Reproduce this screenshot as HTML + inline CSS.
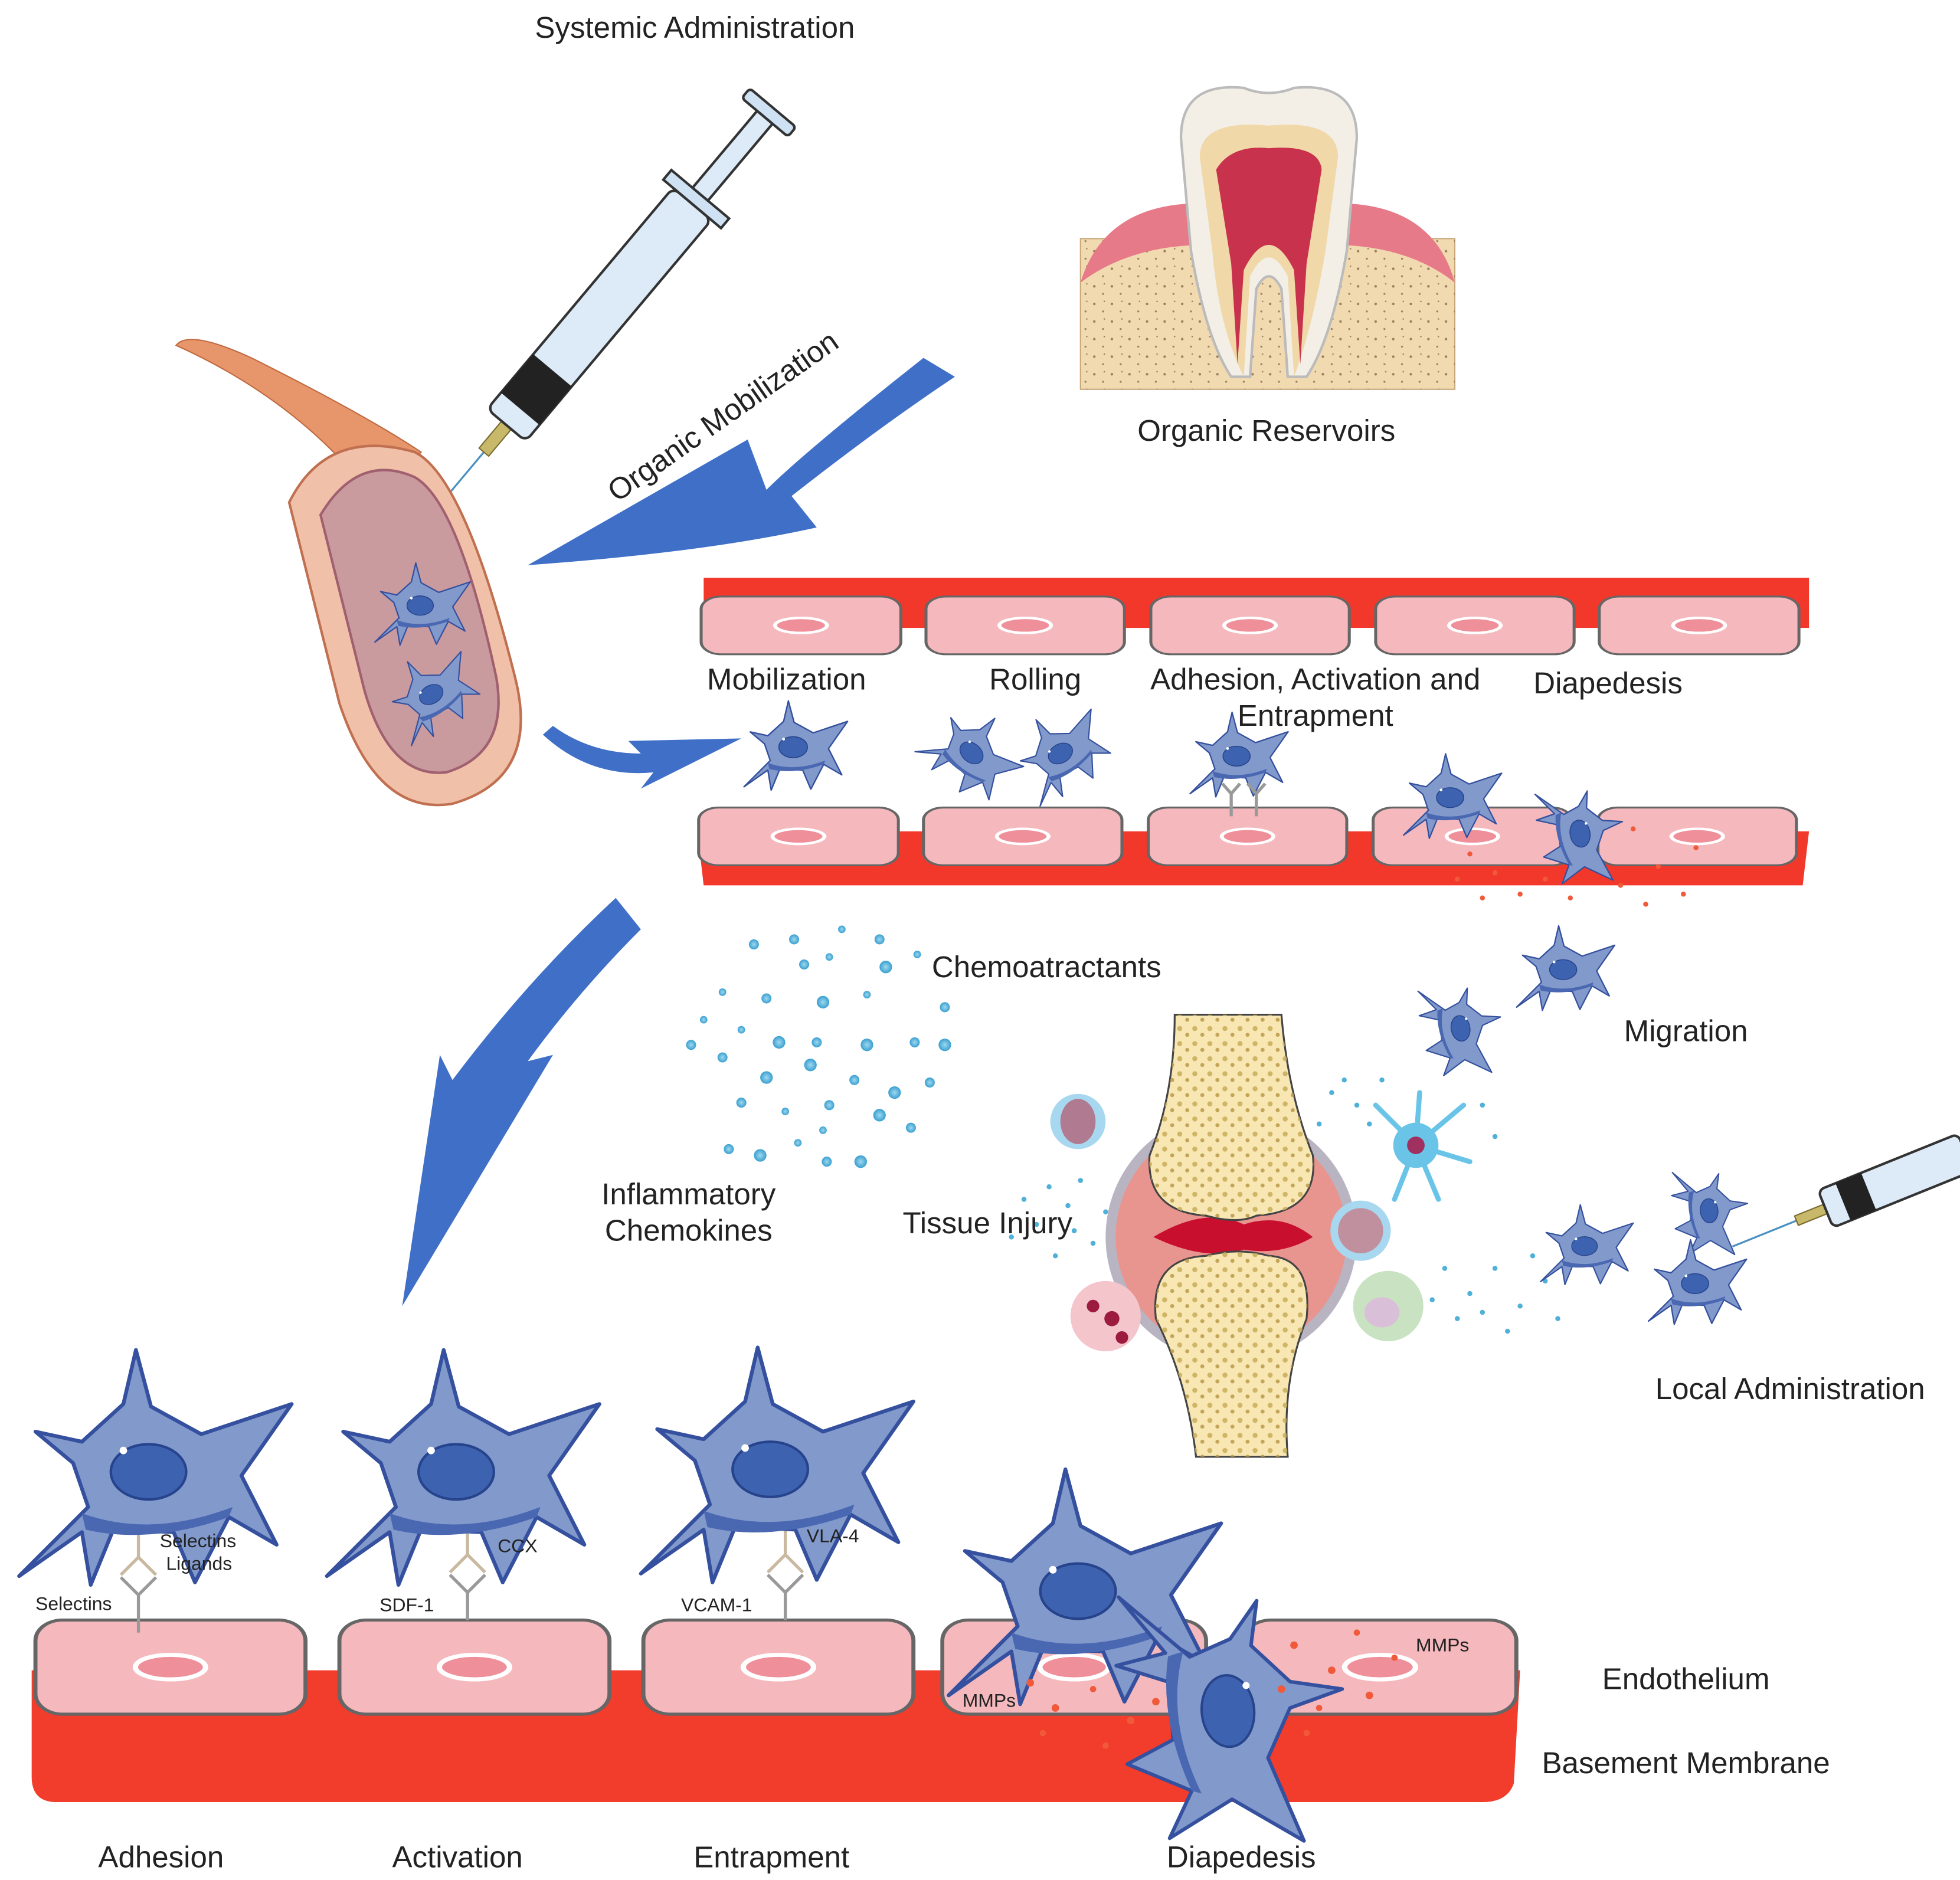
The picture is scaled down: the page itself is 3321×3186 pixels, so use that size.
<!DOCTYPE html>
<html><head><meta charset="utf-8"><style>
html,body{margin:0;padding:0;background:#fff}
svg{display:block}
text{font-family:"Liberation Sans",sans-serif;fill:#222}
</style></head><body>
<svg width="3321" height="3186" viewBox="0 0 1560 1497" xmlns="http://www.w3.org/2000/svg">
<defs>
<g id="cell">
<path d="M-105,75 L-50,20 L-62,-15 L-92,-40 L-55,-32 L-22,-62 L-12,-105 L0,-60 L40,-38 L112,-62 L72,-5 L100,50 L62,28 L35,80 L18,40 L-30,38 L-48,82 L-55,40 Z" fill="#8299cb" stroke="#34509e" stroke-width="3" stroke-linejoin="round"/>
<path d="M-55,25 Q0,45 65,20 L62,28 Q0,50 -52,38 Z" fill="#4a68b2"/>
<ellipse cx="-2" cy="-8" rx="30" ry="22" fill="#3d63b0" stroke="#26438c" stroke-width="2"/>
<circle cx="-22" cy="-25" r="3" fill="#fff"/>
</g>
<g id="endo">
<rect x="0" y="0" width="100" height="46" rx="10" fill="#f5b9bd" stroke="#666" stroke-width="1.5"/>
<ellipse cx="50" cy="23" rx="13" ry="6" fill="#ef8f9a" stroke="#fff" stroke-width="2"/>
</g>
<radialGradient id="dot"><stop offset="0" stop-color="#9fd8f0"/><stop offset="1" stop-color="#3aa0d0"/></radialGradient>
<pattern id="spk" width="14" height="14" patternUnits="userSpaceOnUse">
<circle cx="3" cy="4" r="1" fill="#9a8060"/><circle cx="10" cy="10" r="0.8" fill="#9a8060"/><circle cx="11" cy="2" r="0.6" fill="#9a8060"/>
</pattern>
<pattern id="bsp" width="12" height="12" patternUnits="userSpaceOnUse">
<circle cx="3" cy="3" r="2" fill="#c8ad5a"/><circle cx="9" cy="8" r="1.6" fill="#b89a48"/>
</pattern>
</defs>

<text x="553" y="30" font-size="24" text-anchor="middle">Systemic Administration</text>
<text x="1008" y="351" font-size="24" text-anchor="middle">Organic Reservoirs</text>
<text x="580" y="338" font-size="24" text-anchor="middle" transform="rotate(-35 580 338)">Organic Mobilization</text>

<g transform="translate(385,360) rotate(-50)">
<line x1="0" y1="0" x2="-70" y2="0" stroke="#4a90c0" stroke-width="1.5"/>
<rect x="0" y="-5" width="30" height="10" fill="#c8b86a" stroke="#7a6d30"/>
<rect x="28" y="-20" width="230" height="40" rx="6" fill="#dcebf7" stroke="#333" stroke-width="2"/>
<rect x="45" y="-20" width="40" height="40" fill="#222"/>
<rect x="258" y="-30" width="10" height="60" fill="#cfe2f3" stroke="#333" stroke-width="2"/>
<rect x="268" y="-8" width="80" height="16" fill="#dcebf7" stroke="#333" stroke-width="2"/>
<rect x="348" y="-24" width="10" height="48" rx="3" fill="#cfe2f3" stroke="#333" stroke-width="2"/>
</g>

<rect x="860" y="190" width="298" height="120" fill="#f1d9b0" stroke="#c9a878"/>
<rect x="860" y="190" width="298" height="120" fill="url(#spk)"/>
<path d="M860,225 Q880,160 960,162 L960,195 Q900,195 860,225 Z" fill="#e77a88"/>
<path d="M1158,225 Q1140,160 1060,162 L1060,195 Q1120,195 1158,225 Z" fill="#e77a88"/>
<path d="M940,110 Q940,65 990,70 Q1010,78 1030,70 Q1080,65 1080,110 L1072,200 Q1060,270 1040,300 L1025,300 L1020,230 Q1010,210 1000,230 L995,300 L980,300 Q960,270 948,200 Z" fill="#f3efe6" stroke="#bbb" stroke-width="2"/>
<path d="M955,125 Q955,95 1010,100 Q1065,95 1065,125 L1055,200 Q1045,260 1030,300 L1025,220 Q1010,190 995,220 L990,300 Q970,260 965,200 Z" fill="#f0d8a8"/>
<path d="M968,135 Q980,115 1010,118 Q1050,115 1052,135 L1040,210 L1035,290 L1030,215 Q1010,175 990,215 L985,290 L980,210 Z" fill="#c8324d"/>

<path d="M760,300 L735,285 Q640,360 610,390 L595,350 L420,450 Q560,440 650,420 L630,395 Q700,340 760,300 Z" fill="#3f6fc7"/>
<path d="M432,585 Q470,620 520,615 L510,628 L590,588 L500,590 L510,600 Q470,600 440,578 Z" fill="#3f6fc7"/>
<path d="M510,740 L490,715 Q420,780 360,860 L350,840 L320,1040 L440,840 L420,845 Q460,790 510,740 Z" fill="#3f6fc7"/>

<path d="M140,275 Q150,262 200,285 Q290,330 335,360 L300,400 Q240,320 140,275 Z" fill="#e7966c" stroke="#c06a40"/>
<path d="M230,400 Q260,340 330,360 Q370,380 410,540 Q430,620 360,640 Q300,650 270,560 Z" fill="#f1c0a8" stroke="#c07050" stroke-width="2"/>
<path d="M255,410 Q285,360 330,380 Q365,400 395,540 Q405,600 355,615 Q310,620 290,550 Z" fill="#c99a9e" stroke="#a06070" stroke-width="2"/>
<use href="#cell" transform="translate(335,485) scale(0.35)"/>
<use href="#cell" transform="translate(345,555) scale(0.33) rotate(-30)"/>

<path d="M560,460 L1440,460 L1440,500 L560,500 Z" fill="#f2382a"/>
<use href="#endo" transform="translate(558,475) scale(1.59,1)"/>
<use href="#endo" transform="translate(737,475) scale(1.58,1)"/>
<use href="#endo" transform="translate(916,475) scale(1.58,1)"/>
<use href="#endo" transform="translate(1095,475) scale(1.58,1)"/>
<use href="#endo" transform="translate(1273,475) scale(1.59,1)"/>
<path d="M555,662 L1440,662 L1435,705 L560,705 Z" fill="#f2382a"/>
<use href="#endo" transform="translate(556,643) scale(1.59,1)"/>
<use href="#endo" transform="translate(735,643) scale(1.58,1)"/>
<use href="#endo" transform="translate(914,643) scale(1.58,1)"/>
<use href="#endo" transform="translate(1093,643) scale(1.58,1)"/>
<use href="#endo" transform="translate(1272,643) scale(1.58,1)"/>
<text x="626" y="549" font-size="24" text-anchor="middle">Mobilization</text>
<text x="824" y="549" font-size="24" text-anchor="middle">Rolling</text>
<text x="1047" y="549" font-size="24" text-anchor="middle">Adhesion, Activation and</text>
<text x="1047" y="578" font-size="24" text-anchor="middle">Entrapment</text>
<text x="1280" y="552" font-size="24" text-anchor="middle">Diapedesis</text>
<use href="#cell" transform="translate(632,598) scale(0.38)"/>
<use href="#cell" transform="translate(772,602) scale(0.34) rotate(40)"/>
<use href="#cell" transform="translate(846,602) scale(0.34) rotate(-30)"/>
<use href="#cell" transform="translate(985,605) scale(0.36)"/>
<use href="#cell" transform="translate(1155,638) scale(0.36)"/>
<use href="#cell" transform="translate(1255,665) scale(0.36) rotate(80)"/>
<g fill="#f05a3a">
<circle cx="1170" cy="680" r="2"/><circle cx="1190" cy="695" r="2"/><circle cx="1210" cy="712" r="2"/><circle cx="1290" cy="705" r="2"/><circle cx="1320" cy="690" r="2"/><circle cx="1340" cy="712" r="2"/><circle cx="1180" cy="715" r="2"/><circle cx="1300" cy="660" r="2"/><circle cx="1230" cy="700" r="2"/><circle cx="1350" cy="675" r="2"/><circle cx="1160" cy="700" r="2"/><circle cx="1250" cy="715" r="2"/><circle cx="1310" cy="720" r="2"/>
</g>

<g fill="url(#dot)">
<circle cx="600" cy="752" r="4"/><circle cx="632" cy="748" r="4"/><circle cx="670" cy="740" r="3"/><circle cx="700" cy="748" r="4"/><circle cx="730" cy="760" r="3"/><circle cx="640" cy="768" r="4"/><circle cx="660" cy="762" r="3"/><circle cx="705" cy="770" r="5"/><circle cx="575" cy="790" r="3"/><circle cx="610" cy="795" r="4"/><circle cx="655" cy="798" r="5"/><circle cx="690" cy="792" r="3"/><circle cx="752" cy="802" r="4"/><circle cx="560" cy="812" r="3"/><circle cx="590" cy="820" r="3"/><circle cx="620" cy="830" r="5"/><circle cx="650" cy="830" r="4"/><circle cx="690" cy="832" r="5"/><circle cx="728" cy="830" r="4"/><circle cx="752" cy="832" r="5"/><circle cx="550" cy="832" r="4"/><circle cx="575" cy="842" r="4"/><circle cx="610" cy="858" r="5"/><circle cx="645" cy="848" r="5"/><circle cx="680" cy="860" r="4"/><circle cx="712" cy="870" r="5"/><circle cx="740" cy="862" r="4"/><circle cx="590" cy="878" r="4"/><circle cx="625" cy="885" r="3"/><circle cx="660" cy="880" r="4"/><circle cx="700" cy="888" r="5"/><circle cx="725" cy="898" r="4"/><circle cx="580" cy="915" r="4"/><circle cx="605" cy="920" r="5"/><circle cx="635" cy="910" r="3"/><circle cx="658" cy="925" r="4"/><circle cx="685" cy="925" r="5"/><circle cx="655" cy="900" r="3"/>
</g>
<text x="833" y="778" font-size="24" text-anchor="middle">Chemoatractants</text>
<text x="548" y="959" font-size="24" text-anchor="middle">Inflammatory</text>
<text x="548" y="988" font-size="24" text-anchor="middle">Chemokines</text>

<circle cx="980" cy="985" r="100" fill="#b9b4c2"/>
<circle cx="980" cy="985" r="92" fill="#e8958f"/>
<path d="M918,985 Q960,960 990,975 Q1020,965 1045,985 Q1020,1000 990,995 Q960,1005 918,985 Z" fill="#c8102e"/>
<path d="M935,808 L1020,808 Q1025,870 1045,920 Q1050,965 1000,968 Q985,975 960,968 Q912,965 915,920 Q935,870 935,808 Z" fill="#f8e6b3" stroke="#444" stroke-width="1.5"/>
<path d="M935,808 L1020,808 Q1025,870 1045,920 Q1050,965 1000,968 Q985,975 960,968 Q912,965 915,920 Q935,870 935,808 Z" fill="url(#bsp)" opacity="0.85"/>
<path d="M920,1050 Q915,1002 960,1000 Q985,993 1010,1000 Q1045,1002 1040,1050 Q1020,1100 1025,1160 L952,1160 Q945,1100 920,1050 Z" fill="#f8e6b3" stroke="#444" stroke-width="1.5"/>
<path d="M920,1050 Q915,1002 960,1000 Q985,993 1010,1000 Q1045,1002 1040,1050 Q1020,1100 1025,1160 L952,1160 Q945,1100 920,1050 Z" fill="url(#bsp)" opacity="0.85"/>
<circle cx="858" cy="893" r="22" fill="#a8d8f0"/><ellipse cx="858" cy="893" rx="14" ry="18" fill="#b07a90"/>
<circle cx="1083" cy="980" r="24" fill="#a8d8f0"/><circle cx="1083" cy="980" r="18" fill="#c0909e"/>
<circle cx="880" cy="1048" r="28" fill="#f5c5cc"/><circle cx="870" cy="1040" r="5" fill="#9c1c40"/><circle cx="885" cy="1050" r="6" fill="#9c1c40"/><circle cx="893" cy="1065" r="5" fill="#9c1c40"/>
<circle cx="1105" cy="1040" r="28" fill="#c9e3c2"/><ellipse cx="1100" cy="1045" rx="14" ry="12" fill="#d9c0d8"/>
<g stroke="#69c4e8" stroke-width="4" stroke-linecap="round"><line x1="1127" y1="912" x2="1095" y2="880"/><line x1="1127" y1="912" x2="1165" y2="880"/><line x1="1127" y1="912" x2="1170" y2="925"/><line x1="1127" y1="912" x2="1110" y2="955"/><line x1="1127" y1="912" x2="1145" y2="955"/><line x1="1127" y1="912" x2="1130" y2="870"/></g>
<circle cx="1127" cy="912" r="18" fill="#69c4e8"/><circle cx="1127" cy="912" r="7" fill="#a03060"/>
<g fill="#4fb0d8">
<circle cx="835" cy="945" r="2"/><circle cx="850" cy="960" r="2"/><circle cx="825" cy="975" r="2"/><circle cx="870" cy="990" r="2"/><circle cx="840" cy="1000" r="2"/><circle cx="860" cy="940" r="2"/><circle cx="815" cy="955" r="2"/><circle cx="880" cy="965" r="2"/><circle cx="805" cy="985" r="2"/><circle cx="855" cy="980" r="2"/>
<circle cx="1060" cy="870" r="2"/><circle cx="1080" cy="880" r="2"/><circle cx="1100" cy="860" r="2"/><circle cx="1050" cy="895" r="2"/><circle cx="1180" cy="880" r="2"/><circle cx="1190" cy="905" r="2"/><circle cx="1070" cy="860" r="2"/><circle cx="1090" cy="895" r="2"/>
<circle cx="1150" cy="1010" r="2"/><circle cx="1170" cy="1030" r="2"/><circle cx="1190" cy="1010" r="2"/><circle cx="1210" cy="1040" r="2"/><circle cx="1230" cy="1020" r="2"/><circle cx="1160" cy="1050" r="2"/><circle cx="1200" cy="1060" r="2"/><circle cx="1240" cy="1050" r="2"/><circle cx="1140" cy="1035" r="2"/><circle cx="1180" cy="1045" r="2"/><circle cx="1220" cy="1000" r="2"/>
</g>
<text x="786" y="982" font-size="24" text-anchor="middle">Tissue Injury</text>

<use href="#cell" transform="translate(1245,775) scale(0.36)"/>
<use href="#cell" transform="translate(1160,820) scale(0.34) rotate(80)"/>
<use href="#cell" transform="translate(1262,995) scale(0.34)"/>
<use href="#cell" transform="translate(1358,965) scale(0.32) rotate(85)"/>
<use href="#cell" transform="translate(1350,1025) scale(0.36)"/>
<text x="1342" y="829" font-size="24" text-anchor="middle">Migration</text>
<text x="1425" y="1114" font-size="24" text-anchor="middle">Local Administration</text>
<g transform="translate(1430,972) rotate(-22)">
<line x1="0" y1="0" x2="-55" y2="0" stroke="#4a90c0" stroke-width="1.5"/>
<rect x="0" y="-4" width="25" height="8" fill="#c8b86a" stroke="#7a6d30"/>
<rect x="25" y="-16" width="120" height="32" rx="5" fill="#dcebf7" stroke="#333" stroke-width="2"/>
<rect x="40" y="-16" width="22" height="32" fill="#222"/>
</g>

<path d="M25,1330 L1210,1330 L1205,1420 Q1200,1435 1180,1435 L45,1435 Q25,1435 25,1415 Z" fill="#f23c2c"/>
<use href="#endo" transform="translate(28,1290) scale(2.15,1.63)"/>
<use href="#endo" transform="translate(270,1290) scale(2.15,1.63)"/>
<use href="#endo" transform="translate(512,1290) scale(2.15,1.63)"/>
<use href="#endo" transform="translate(750,1290) scale(2.1,1.63)"/>
<use href="#endo" transform="translate(990,1290) scale(2.17,1.63)"/>
<g stroke="#999" stroke-width="2.5" fill="none">
<path d="M110,1300 L110,1270 L96,1256 M110,1270 L124,1256"/><path d="M110,1200 L110,1240 L96,1254 M110,1240 L124,1254" stroke="#c9b9a0"/>
<path d="M372,1290 L372,1268 L358,1254 M372,1268 L386,1254"/><path d="M372,1200 L372,1238 L358,1252 M372,1238 L386,1252" stroke="#c9b9a0"/>
<path d="M625,1290 L625,1268 L611,1254 M625,1268 L639,1254"/><path d="M625,1200 L625,1238 L611,1252 M625,1238 L639,1252" stroke="#c9b9a0"/>
<path d="M980,650 L980,632 L973,624 M980,632 L987,624"/><path d="M1000,650 L1000,632 L993,624 M1000,632 L1007,624"/>
</g>
<use href="#cell" transform="translate(120,1180)"/>
<use href="#cell" transform="translate(365,1180)"/>
<use href="#cell" transform="translate(615,1178)"/>
<use href="#cell" transform="translate(860,1275)"/>
<use href="#cell" transform="translate(970,1365) scale(0.95) rotate(85)"/>
<g fill="#f05a3a">
<circle cx="820" cy="1340" r="3"/><circle cx="840" cy="1360" r="3"/><circle cx="870" cy="1345" r="2.5"/><circle cx="900" cy="1370" r="3"/><circle cx="830" cy="1380" r="2.5"/><circle cx="880" cy="1390" r="2.5"/><circle cx="920" cy="1355" r="3"/><circle cx="1030" cy="1310" r="3"/><circle cx="1060" cy="1330" r="3"/><circle cx="1090" cy="1350" r="3"/><circle cx="1050" cy="1360" r="2.5"/><circle cx="1110" cy="1320" r="2.5"/><circle cx="1020" cy="1345" r="3"/><circle cx="1080" cy="1300" r="2.5"/><circle cx="1040" cy="1380" r="2.5"/>
</g>
<g font-size="15">
<text x="127" y="1232">Selectins</text><text x="132" y="1250">Ligands</text>
<text x="28" y="1282">Selectins</text>
<text x="302" y="1283">SDF-1</text><text x="396" y="1236">CCX</text>
<text x="542" y="1283">VCAM-1</text><text x="642" y="1228">VLA-4</text>
<text x="1127" y="1315">MMPs</text><text x="766" y="1359">MMPs</text>
</g>
<text x="1342" y="1345" font-size="24" text-anchor="middle">Endothelium</text>
<text x="1342" y="1412" font-size="24" text-anchor="middle">Basement Membrane</text>
<text x="128" y="1487" font-size="24" text-anchor="middle">Adhesion</text>
<text x="364" y="1487" font-size="24" text-anchor="middle">Activation</text>
<text x="614" y="1487" font-size="24" text-anchor="middle">Entrapment</text>
<text x="988" y="1487" font-size="24" text-anchor="middle">Diapedesis</text>
</svg>
</body></html>
